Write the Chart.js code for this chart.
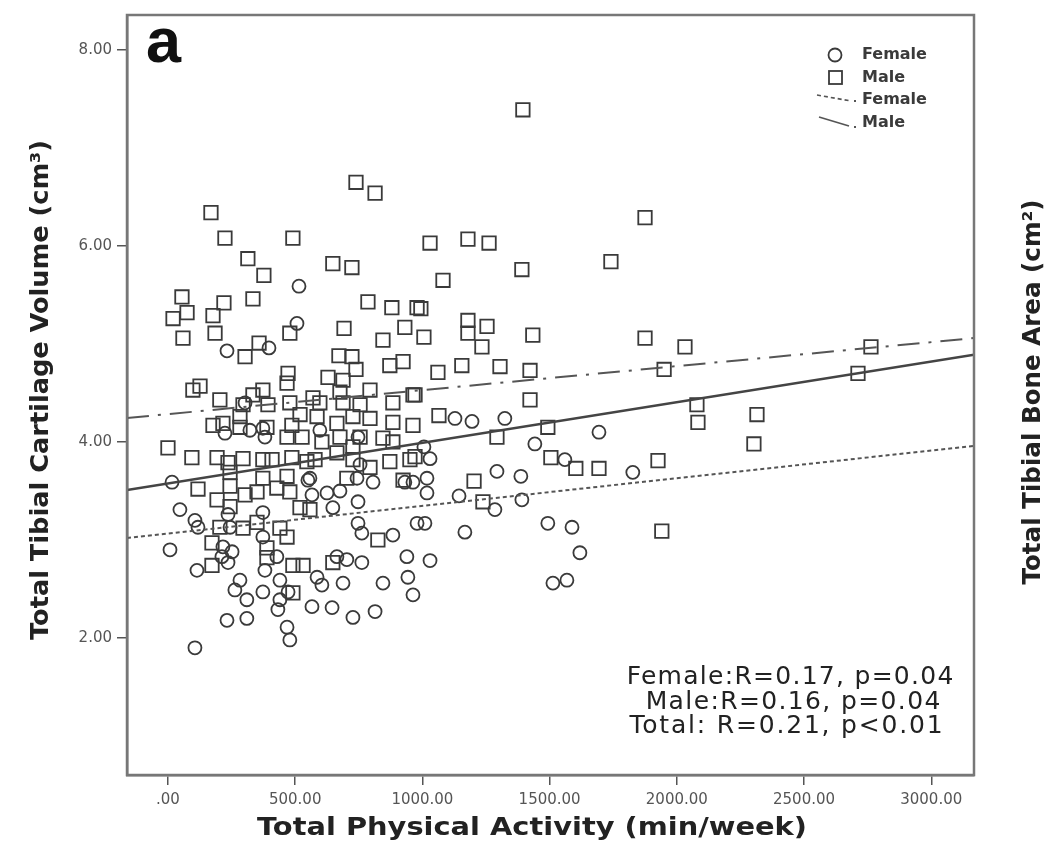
<!DOCTYPE html>
<html><head><meta charset="utf-8">
<script src="https://cdn.jsdelivr.net/npm/chart.js@4.4.1/dist/chart.umd.min.js"></script>
<style>html,body{margin:0;padding:0;background:#fff;}canvas{display:block;}</style>
</head><body>
<canvas id="c" width="1050" height="857"></canvas>
<script>
// ---- data ----
const femaleX = [515,507,232,397,1128,1195,1324,1694,1442,1006,1030,1560,1827,1293,1387,931,1018,1018,1144,1285,1391,979,1010,1167,1493,1588,1619,1030,939,943,963,1513,1568,224,322,381,755,16,550,625,676,806,963,566,648,747,47,373,106,118,236,244,373,747,762,884,216,252,212,236,114,8,428,381,586,605,688,664,703,762,845,283,263,310,373,440,440,472,566,645,727,814,232,310,432,468,479,106,303,373,597,747,558,743];
const femaleY = [5.59,5.21,4.93,4.96,4.24,4.21,4.24,4.10,3.98,3.95,3.83,3.82,3.69,3.70,3.65,3.59,3.63,3.48,3.45,3.31,3.41,3.17,3.17,3.08,3.17,3.13,2.87,2.79,2.83,2.62,2.44,2.56,2.59,4.09,4.12,4.05,3.77,3.59,3.61,3.48,3.50,3.59,3.59,3.46,3.33,3.39,3.31,3.28,3.20,3.13,3.26,3.13,3.03,3.17,3.07,3.05,2.93,2.88,2.83,2.77,2.69,2.90,2.83,2.69,2.62,2.54,2.56,2.83,2.80,2.77,2.56,2.59,2.49,2.39,2.47,2.59,2.39,2.47,2.32,2.31,2.21,2.27,2.18,2.20,2.29,2.11,1.98,1.90,4.40,4.14,4.12,4.05,3.63,3.63];
const maleX = [739,814,169,224,491,314,377,648,723,55,334,220,786,880,979,75,20,177,479,692,931,845,59,185,303,358,672,723,739,924,872,126,98,204,472,468,629,688,373,334,570,676,794,963,884,1395,1875,1030,1179,1262,1741,1391,1081,994,1006,1179,1179,1254,1234,1434,1875,2032,1061,1155,1305,1423,1950,971,1423,963,1065,1293,1493,971,1505,1603,1694,1926,1203,1238,1941,2763,2712,2079,2083,2315,2303,295,393,479,597,688,755,177,216,283,389,283,487,519,586,664,727,794,884,468,527,605,676,755,845,884,0,94,193,236,295,373,409,487,546,578,664,727,794,872,951,727,244,118,244,373,428,468,703,924,193,244,303,350,479,519,558,204,295,350,440,468,825,173,389,389,491,531,648,173,491];
const maleY = [6.65,6.54,6.34,6.08,6.08,5.87,5.70,5.82,5.78,5.48,5.46,5.42,5.43,5.37,5.37,5.32,5.26,5.29,5.11,5.16,5.17,5.04,5.06,5.11,4.87,5.01,4.88,4.87,4.74,4.82,4.78,4.57,4.53,4.43,4.70,4.60,4.66,4.63,4.53,4.48,4.45,4.51,4.53,4.48,4.40,7.39,6.29,6.03,6.07,6.03,5.84,5.76,5.65,5.36,5.07,5.24,5.11,5.18,4.97,5.09,5.06,4.97,4.71,4.78,4.77,4.73,4.74,4.48,4.43,4.17,4.27,4.05,4.15,3.85,3.84,3.73,3.73,3.81,3.60,3.39,3.09,4.97,4.70,4.38,4.20,4.28,3.98,4.38,4.38,4.40,4.40,4.40,4.38,4.17,4.19,4.26,4.15,4.15,4.17,4.28,4.26,4.19,4.26,4.24,4.20,4.05,4.05,4.00,4.05,4.05,4.04,4.00,3.94,3.84,3.84,3.79,3.83,3.82,3.82,3.84,3.80,3.82,3.89,3.82,3.74,3.80,3.82,3.95,3.69,3.52,3.55,3.63,3.53,3.65,3.63,3.61,3.41,3.34,3.46,3.49,3.49,3.33,3.31,3.13,3.12,3.18,3.12,3.03,3.00,2.97,2.92,2.82,2.74,2.74,2.77,2.74,2.46];
// fit lines: end points at the axis limits
const fitX = [-161, 3168];
const femaleFitY = [3.02, 3.96];
const maleFitY = [4.245, 5.06];
const totalFitY = [3.51, 4.89];
// axes
const xRange = [-161, 3168];
const yRange = [0.602, 8.357];
const xTickValues = [0, 500, 1000, 1500, 2000, 2500, 3000];
const yTickValues = [2, 4, 6, 8];
// texts
const xTitle = 'Total Physical Activity (min/week)';
const yTitle = 'Total Tibial Cartilage Volume (cm\u00B3)';
const y2Title = 'Total Tibial Bone Area (cm\u00B2)';
const panelLetter = 'a';
const statsLines = ['Female:R=0.17, p=0.04', 'Male:R=0.16, p=0.04', 'Total: R=0.21, p<0.01'];
const legendLabels = ['Female', 'Male', 'Female', 'Male'];

const pts = (xs, ys) => xs.map((x, i) => ({x: x, y: ys[i]}));
const MARK = '#3a3a3a';

// text drawn centred at (x,y), widened horizontally to a target width
function wideText(ctx, text, x, y, targetW, rot) {
  const w = ctx.measureText(text).width;
  const f = targetW / w;
  ctx.save();
  ctx.translate(x, y);
  if (rot) ctx.rotate(rot);
  ctx.scale(f, 1);
  ctx.textAlign = 'center';
  ctx.fillText(text, 0, 0);
  ctx.restore();
}
function spacedText(ctx, text, x, y, targetW) {
  ctx.letterSpacing = '0px';
  const w = ctx.measureText(text).width;
  const ls = (targetW - w) / text.length;
  ctx.letterSpacing = ls + 'px';
  ctx.fillText(text, x + ls / 2, y);
  ctx.letterSpacing = '0px';
}

const decor = {
  id: 'decor',
  beforeDraw(chart) {
    const ctx = chart.ctx;
    ctx.save();
    ctx.fillStyle = '#fff';
    ctx.fillRect(0, 0, chart.width, chart.height);
    ctx.restore();
  },
  afterDraw(chart) {
    const ctx = chart.ctx;
    const a = chart.chartArea;
    ctx.save();
    // frame
    ctx.strokeStyle = '#777';
    ctx.lineWidth = 2.5;
    ctx.strokeRect(a.left, a.top, a.right - a.left, a.bottom - a.top);
    // panel letter
    ctx.fillStyle = '#111';
    ctx.font = 'bold 63px "Liberation Sans", Arial, sans-serif';
    ctx.textAlign = 'left';
    ctx.textBaseline = 'alphabetic';
    ctx.fillText(panelLetter, a.left + 19, a.top + 47);
    // axis titles
    ctx.fillStyle = '#222';
    ctx.font = 'bold 25px "DejaVu Sans", sans-serif';
    ctx.textBaseline = 'middle';
    wideText(ctx, xTitle, 532, 828, 550, 0);
    wideText(ctx, yTitle, 41, 390, 500, -Math.PI / 2);
    wideText(ctx, y2Title, 1033, 392, 385, -Math.PI / 2);
    // stats text
    ctx.fillStyle = '#222';
    ctx.font = '25px "DejaVu Sans", sans-serif';
    ctx.textAlign = 'center';
    const rowsY = [677, 702, 726];
    spacedText(ctx, statsLines[0], 790, rowsY[0], 328);
    spacedText(ctx, statsLines[1], 793, rowsY[1], 296);
    spacedText(ctx, statsLines[2], 786, rowsY[2], 315);
    // legend
    ctx.strokeStyle = MARK;
    ctx.lineWidth = 1.8;
    ctx.beginPath(); ctx.arc(835, 55, 6.5, 0, Math.PI * 2); ctx.stroke();
    ctx.strokeRect(829, 71, 13, 13);
    ctx.strokeStyle = '#555';
    ctx.lineWidth = 1.6;
    ctx.setLineDash([4, 3]);
    ctx.beginPath(); ctx.moveTo(817, 95); ctx.lineTo(851, 101); ctx.stroke();
    ctx.setLineDash([]);
    ctx.beginPath(); ctx.moveTo(819, 117); ctx.lineTo(849, 126); ctx.stroke();
    ctx.fillStyle = '#555';
    ctx.fillRect(854, 100, 2, 2);
    ctx.fillRect(854, 126, 2, 2);
    ctx.fillStyle = '#3a3a3a';
    ctx.font = 'bold 16px "DejaVu Sans", sans-serif';
    ctx.textAlign = 'left';
    const legY = [55, 78, 100, 123];
    legendLabels.forEach((t, i) => ctx.fillText(t, 862, legY[i]));
    ctx.restore();
  }
};

const tickFont = {family: '"DejaVu Sans", sans-serif', size: 15};

new Chart(document.getElementById('c'), {
  type: 'scatter',
  data: {
    datasets: [
      {label: 'Female', data: pts(femaleX, femaleY), pointStyle: 'circle', pointRadius: 6.5,
       borderColor: MARK, borderWidth: 1.8, backgroundColor: 'rgba(0,0,0,0)', order: 2},
      {label: 'Male', data: pts(maleX, maleY), pointStyle: 'rect', pointRadius: 9.5,
       borderColor: MARK, borderWidth: 1.8, backgroundColor: 'rgba(0,0,0,0)', order: 2},
      {type: 'line', label: 'Total fit', data: pts(fitX, totalFitY), borderColor: '#444', borderWidth: 2.5,
       pointRadius: 0, showLine: true, fill: false, order: 1},
      {type: 'line', label: 'Female fit', data: pts(fitX, femaleFitY), borderColor: '#555', borderWidth: 2,
       borderDash: [4, 3], pointRadius: 0, showLine: true, fill: false, order: 1},
      {type: 'line', label: 'Male fit', data: pts(fitX, maleFitY), borderColor: '#555', borderWidth: 2,
       borderDash: [22, 9, 3, 9], pointRadius: 0, showLine: true, fill: false, order: 1}
    ]
  },
  options: {
    responsive: false,
    animation: false,
    devicePixelRatio: 1,
    layout: {padding: {top: 15, right: 76, left: 0, bottom: 0}},
    plugins: {legend: {display: false}, tooltip: {enabled: false}},
    scales: {
      x: {
        type: 'linear', min: xRange[0], max: xRange[1],
        afterBuildTicks: s => { s.ticks = xTickValues.map(v => ({value: v})); },
        afterFit: s => { s.height = 82; },
        ticks: {font: tickFont, color: '#555', padding: 6,
                callback: v => v === 0 ? '.00' : Number(v).toFixed(2)},
        grid: {drawOnChartArea: false, drawTicks: true, tickLength: 10, color: '#555', lineWidth: 1.5},
        border: {display: true, color: '#777', width: 2.5}
      },
      y: {
        type: 'linear', min: yRange[0], max: yRange[1],
        afterBuildTicks: s => { s.ticks = yTickValues.map(v => ({value: v})); },
        afterFit: s => { s.width = 127; },
        ticks: {font: tickFont, color: '#555', padding: 5,
                callback: v => Number(v).toFixed(2)},
        grid: {drawOnChartArea: false, drawTicks: true, tickLength: 10, color: '#555', lineWidth: 1.5},
        border: {display: true, color: '#777', width: 2.5}
      }
    }
  },
  plugins: [decor]
});
</script>
</body></html>
